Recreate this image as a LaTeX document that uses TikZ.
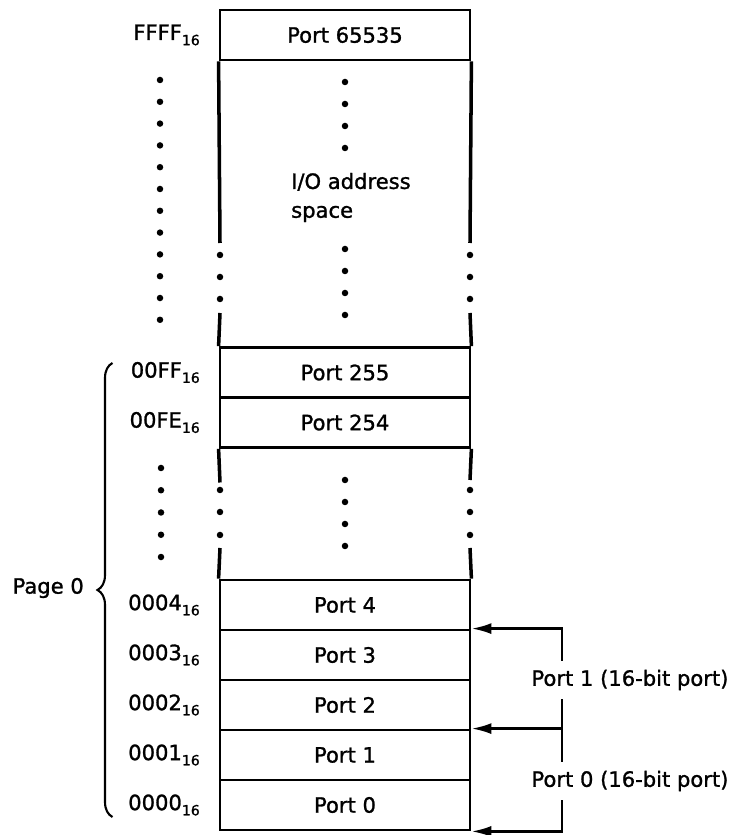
\documentclass[tikz,border=0pt]{standalone}
\usepackage{fontspec}
\setmainfont{DejaVu Sans}[FakeBold=1.2]
\usetikzlibrary{arrows.meta, decorations.pathreplacing, positioning}

\newcommand{\hexaddr}[1]{#1\raisebox{-0.45ex}{\fontsize{8}{8}\selectfont 16}}

\begin{document}
\begin{tikzpicture}[
  port/.style={draw, line width=1.6pt, minimum width=5cm, minimum height=1cm, font=\fontsize{12}{14}\selectfont},
  addr/.style={anchor=east, font=\fontsize{12}{14}\selectfont},
  wall/.style={line width=2pt},
  ptr/.style={line width=1.5pt, -{Latex[length=4mm,width=2.2mm]}},
  lbl/.style={font=\fontsize{12}{14}\selectfont, inner ysep=5pt}
]
\useasboundingbox (0,0) rectangle (14.84,16.7);

% Port cells
\node[port] (p65535) at (6.9,16) {Port 65535};
\node[port] (p255) at (6.9,9.25) {Port 255};
\node[port] (p254) at (6.9,8.25) {Port 254};
\node[port] (p4) at (6.9,4.6) {Port 4};
\node[port] (p3) at (6.9,3.6) {Port 3};
\node[port] (p2) at (6.9,2.6) {Port 2};
\node[port] (p1) at (6.9,1.6) {Port 1};
\node[port] (p0) at (6.9,0.6) {Port 0};

% Walls of the I/O address space
\draw[wall] (p65535.south west) -- (4.4,11.84);
\draw[wall] (4.4,10.44) -- (p255.north west);
\draw[wall] (p65535.south east) -- (9.4,11.84);
\draw[wall] (9.4,10.44) -- (p255.north east);
\draw[wall] (p254.south west) -- (4.4,7.05);
\draw[wall] (4.4,5.74) -- (p4.north west);
\draw[wall] (p254.south east) -- (9.4,7.1);
\draw[wall] (9.4,5.74) -- (p4.north east);

% Dots in the walls
\foreach \y in {11.6,11.16,10.72,6.9,6.46,6.0} {
  \fill (4.4,\y) circle (0.065);
  \fill (9.4,\y) circle (0.065);
}

% Dots in the middle
\foreach \y in {15.06,14.62,14.18,13.74,11.72,11.28,10.84,10.4,7.1,6.66,6.22,5.78}
  \fill (6.9,\y) circle (0.065);

% Dots in the address column
\foreach \i in {0,...,11}
  \fill (3.2,{15.1-0.436*\i}) circle (0.065);
\foreach \i in {0,...,4}
  \fill (3.22,{7.34-0.445*\i}) circle (0.065);

\node[anchor=west, align=left, font=\fontsize{12}{16.4}\selectfont] (iospace) at (5.7,12.75) {I/O address\\space};

% Addresses
\node[addr] (aFFFF) at (4.12,16) {\hexaddr{FFFF}};
\node[addr] (a00FF) at (4.12,9.25) {\hexaddr{00FF}};
\node[addr] (a00FE) at (4.12,8.25) {\hexaddr{00FE}};
\node[addr] (a0004) at (4.12,4.6) {\hexaddr{0004}};
\node[addr] (a0003) at (4.12,3.6) {\hexaddr{0003}};
\node[addr] (a0002) at (4.12,2.6) {\hexaddr{0002}};
\node[addr] (a0001) at (4.12,1.6) {\hexaddr{0001}};
\node[addr] (a0000) at (4.12,0.6) {\hexaddr{0000}};

% Page 0 brace
\draw[line width=1.2pt, decorate, decoration={brace, amplitude=0.3cm}] (2.25,0.36) -- (2.25,9.44);
\node[addr] (page) at (1.8,4.94) {Page 0};

% 16-bit ports
\coordinate (bus) at (11.24,0);
\node[lbl] (w1) at (12.6,3.1) {Port 1 (16-bit port)};
\node[lbl] (w0) at (12.6,1.08) {Port 0 (16-bit port)};
\draw[ptr] (bus |- w1.north) -- (bus |- p3.north east) -- (p3.north east);
\draw[ptr] (bus |- w1.south) -- (bus |- p1.north east) -- (p1.north east);
\draw[line width=1.5pt] (bus |- p1.north east) -- (bus |- w0.north);
\draw[ptr] (bus |- w0.south) -- (bus |- p0.south east) -- (p0.south east);

\end{tikzpicture}
\end{document}
